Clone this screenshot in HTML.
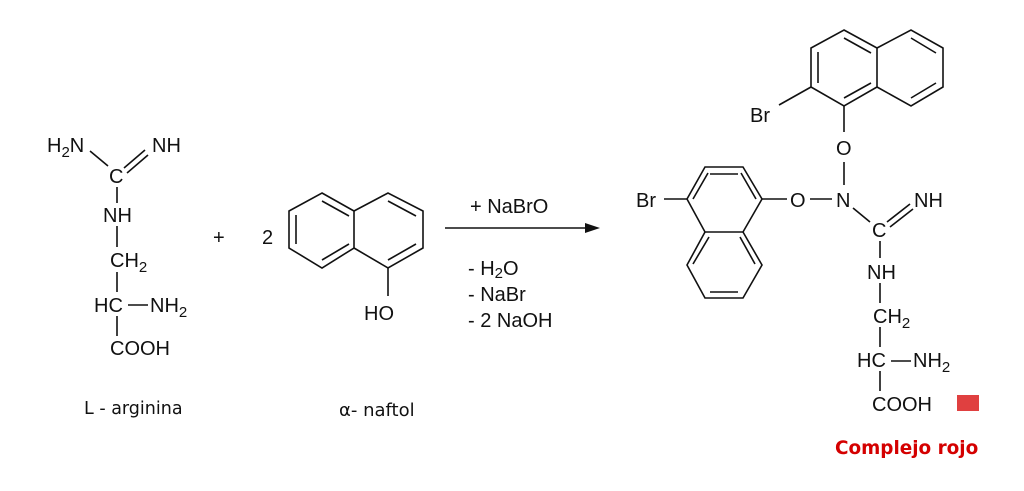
<!DOCTYPE html>
<html><head><meta charset="utf-8"><style>
html,body{margin:0;padding:0;background:#fff;}
svg{display:block;}
text{font-family:"Liberation Sans",sans-serif;font-size:20px;fill:#111;}
.s{font-size:15px;}
.lab{font-family:"DejaVu Sans",sans-serif;font-size:17.5px;}
</style></head><body>
<svg width="1024" height="491" viewBox="0 0 1024 491">
<g stroke="#111" stroke-width="1.6" fill="none">
<line x1="90" y1="151" x2="108" y2="166"/>
<line x1="124" y1="168" x2="145" y2="150"/><line x1="127" y1="173" x2="148" y2="155"/>
<line x1="117" y1="187" x2="117" y2="203"/>
<line x1="117" y1="226" x2="117" y2="247"/>
<line x1="117" y1="272" x2="117" y2="292"/>
<line x1="128" y1="305" x2="148" y2="305"/>
<line x1="117" y1="316" x2="117" y2="336"/>
<polygon points="322,193 354,211 354,248 322,268 289,248 289,211"/>
<polyline points="354,211 388,193 423,211 423,248 388,268 354,248"/>
<line x1="296" y1="215" x2="296" y2="244"/><line x1="322" y1="201" x2="349" y2="216"/><line x1="322" y1="260" x2="349" y2="244"/>
<line x1="388" y1="201" x2="416" y2="216"/><line x1="416" y1="244" x2="388" y2="260"/>
<line x1="388" y1="268" x2="388" y2="296"/>
<polygon points="844,30 877,48 877,87 844,106 811,87 811,48"/>
<polyline points="877,48 911,30 943,48 943,87 911,106 877,87"/>
<line x1="818" y1="52" x2="818" y2="83"/><line x1="844" y1="38" x2="871" y2="53"/><line x1="844" y1="98" x2="871" y2="83"/>
<line x1="911" y1="38" x2="936" y2="53"/><line x1="936" y1="83" x2="911" y2="98"/>
<line x1="811" y1="87" x2="779" y2="105"/>
<line x1="844" y1="106" x2="844" y2="132"/>
<line x1="844" y1="162" x2="844" y2="185"/>
<polygon points="705,167 743,167 762,199 743,232 705,232 687,199"/>
<polyline points="743,232 762,265 743,298 705,298 687,265 705,232"/>
<line x1="710" y1="174" x2="738" y2="174"/><line x1="693" y1="199" x2="708" y2="173"/><line x1="756" y1="199" x2="741" y2="173"/>
<line x1="740" y1="237" x2="755" y2="264"/><line x1="710" y1="292" x2="738" y2="292"/><line x1="709" y1="237" x2="693" y2="264"/>
<line x1="664" y1="199" x2="687" y2="199"/>
<line x1="762" y1="199" x2="787" y2="199"/>
<line x1="810" y1="199" x2="832" y2="199"/>
<line x1="853" y1="208" x2="870" y2="222"/>
<line x1="887" y1="222" x2="910" y2="204"/><line x1="890" y1="227" x2="913" y2="209"/>
<line x1="880" y1="241" x2="880" y2="258"/>
<line x1="880" y1="283" x2="880" y2="303"/>
<line x1="880" y1="327" x2="880" y2="347"/>
<line x1="891" y1="361" x2="911" y2="361"/>
<line x1="880" y1="371" x2="880" y2="391"/>
</g>
<line x1="445" y1="228" x2="588" y2="228" stroke="#111" stroke-width="1.6"/>
<polygon points="600,228 585,223 585,233" fill="#111"/>

<text x="47" y="152">H<tspan class="s" dy="5">2</tspan><tspan dy="-5">N</tspan></text>
<text x="152" y="152">NH</text>
<text x="109" y="183">C</text>
<text x="103" y="222">NH</text>
<text x="110" y="267">CH<tspan class="s" dy="5">2</tspan></text>
<text x="94" y="312">HC</text>
<text x="150" y="312">NH<tspan class="s" dy="5">2</tspan></text>
<text x="110" y="355">COOH</text>
<text x="84" y="414" class="lab">L - arginina</text>
<text x="213" y="244">+</text>
<text x="262" y="244">2</text>
<text x="364" y="320">HO</text>
<text x="339" y="416" class="lab" style="font-size:18px">α- naftol</text>

<text x="470" y="213">+ NaBrO</text>
<text x="468" y="275">- H<tspan class="s" dy="3">2</tspan><tspan dy="-3">O</tspan></text>
<text x="468" y="301">- NaBr</text>
<text x="468" y="327">- 2 NaOH</text>

<text x="750" y="122">Br</text>
<text x="836" y="155">O</text>
<text x="636" y="207">Br</text>
<text x="790" y="207">O</text>
<text x="836" y="207">N</text>
<text x="914" y="207">NH</text>
<text x="872" y="237">C</text>
<text x="867" y="279">NH</text>
<text x="873" y="323">CH<tspan class="s" dy="5">2</tspan></text>
<text x="857" y="367">HC</text>
<text x="913" y="367">NH<tspan class="s" dy="5">2</tspan></text>
<text x="872" y="411">COOH</text>
<rect x="957" y="395" width="22" height="16" fill="#e04040"/>
<text x="835" y="454" style="font-family:'DejaVu Sans',sans-serif;font-size:18.4px;font-weight:bold;fill:#d40000">Complejo rojo</text>
</svg>
</body></html>
